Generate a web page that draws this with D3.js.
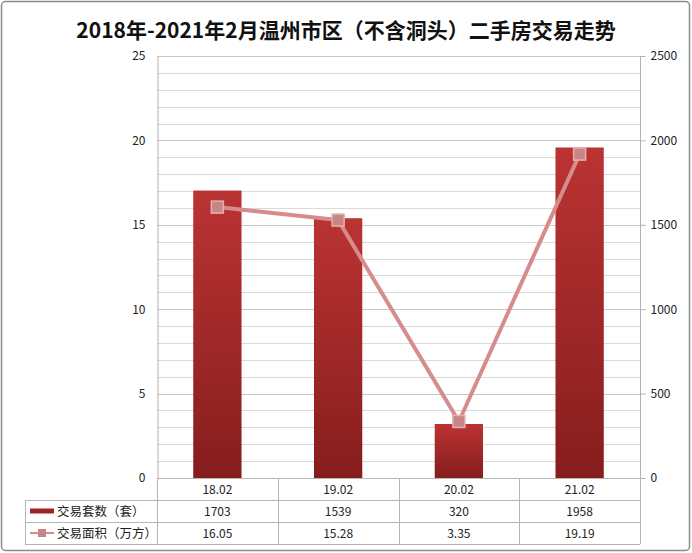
<!DOCTYPE html>
<html>
<head>
<meta charset="utf-8">
<script src="https://cdn.jsdelivr.net/npm/d3@7"></script>
<style>
  body { margin: 0; background: #fff; }
  text { font-family: "Noto Sans CJK SC", "DejaVu Sans", sans-serif; }
</style>
</head>
<body>
<div id="chart"></div>
<script>
// data
var categories = ["18.02", "19.02", "20.02", "21.02"];
var unitCounts = [1703, 1539, 320, 1958];          // 交易套数（套）, right axis
var areaValues = [16.05, 15.28, 3.35, 19.19];      // 交易面积（万方）, left axis
var areaLabels = ["16.05", "15.28", "3.35", "19.19"];
var leftTicks = [0, 5, 10, 15, 20, 25];
var rightTicks = [0, 500, 1000, 1500, 2000, 2500];
var seriesNames = ["交易套数（套）", "交易面积（万方）"];
var title = "2018年-2021年2月温州市区（不含洞头）二手房交易走势";

var W = 692, H = 553;
var plot = { left: 157, right: 640, top: 56, bottom: 478 };
var rowH = 22;

var svg = d3.select("#chart").append("svg")
    .attr("width", W)
    .attr("height", H);

// gradient for the bars
var defs = svg.append("defs");
var grad = defs.append("linearGradient")
    .attr("id", "barGrad")
    .attr("x1", 0).attr("y1", 0).attr("x2", 0).attr("y2", 1);
grad.append("stop").attr("offset", "0%").attr("stop-color", "#bb3333");
grad.append("stop").attr("offset", "100%").attr("stop-color", "#861d1d");

// outer frame
svg.append("rect")
    .attr("x", 1.5).attr("y", 1.5)
    .attr("width", W - 4).attr("height", H - 4)
    .attr("rx", 4)
    .attr("fill", "#fff")
    .attr("stroke", "#8c8c8c")
    .attr("stroke-width", 1.5);

svg.append("text")
    .attr("x", 346)
    .attr("y", 38)
    .attr("text-anchor", "middle")
    .attr("font-size", 21)
    .attr("font-weight", "bold")
    .attr("fill", "#111")
    .text(title);

// scales
var xScale = d3.scaleBand()
    .domain(categories)
    .range([plot.left, plot.right])
    .paddingInner(0)
    .paddingOuter(0);

var yLeft = d3.scaleLinear()
    .domain([0, 25])
    .range([plot.bottom, plot.top]);

var yRight = d3.scaleLinear()
    .domain([0, 2500])
    .range([plot.bottom, plot.top]);

// gridlines, one per unit on the left axis
var grid = svg.append("g");
grid.selectAll("line")
    .data(d3.range(1, 26))
    .enter()
    .append("line")
    .attr("x1", plot.left)
    .attr("x2", plot.right)
    .attr("y1", d => Math.round(yLeft(d)) + 0.5)
    .attr("y2", d => Math.round(yLeft(d)) + 0.5)
    .attr("stroke", d => d % 5 === 0 ? "#c8c8c8" : "#dadada")
    .attr("stroke-width", 1);

// left axis (no tick marks, just labels)
var leftAxis = d3.axisLeft(yLeft)
    .tickValues(leftTicks)
    .tickSize(0)
    .tickPadding(12);
var gL = svg.append("g")
    .attr("transform", `translate(${plot.left + 0.5}, 0)`)
    .call(leftAxis);
gL.select(".domain").attr("stroke", "#b0b0b0");
gL.selectAll("text")
    .attr("font-size", 12)
    .attr("fill", "#222")
    .attr("font-family", "'DejaVu Sans', sans-serif");

// right axis with small outward ticks
var rightAxis = d3.axisRight(yRight)
    .tickValues(rightTicks)
    .tickFormat(d3.format("d"))
    .tickSize(5)
    .tickPadding(5);
var gR = svg.append("g")
    .attr("transform", `translate(${plot.right + 0.5}, 0)`)
    .call(rightAxis);
gR.select(".domain").attr("stroke", "#b0b0b0").attr("d", `M0,${plot.top}V${plot.bottom}`);
gR.selectAll(".tick line").attr("stroke", "#b0b0b0");
gR.selectAll("text")
    .attr("font-size", 12)
    .attr("fill", "#222")
    .attr("font-family", "'DejaVu Sans', sans-serif");

// bars
var barW = xScale.bandwidth() * 0.4;
svg.append("g").selectAll("rect")
    .data(unitCounts)
    .enter()
    .append("rect")
    .attr("x", (d, i) => xScale(categories[i]) + (xScale.bandwidth() - barW) / 2)
    .attr("y", d => yRight(d))
    .attr("width", barW)
    .attr("height", d => plot.bottom - yRight(d))
    .attr("fill", "url(#barGrad)");

// line series
var lineColor = "#d68c8c";
var line = d3.line()
    .x((d, i) => xScale(categories[i]) + xScale.bandwidth() / 2)
    .y(d => yLeft(d));

svg.append("path")
    .datum(areaValues)
    .attr("d", line)
    .attr("fill", "none")
    .attr("stroke", lineColor)
    .attr("stroke-width", 4)
    .attr("stroke-linejoin", "round");

var mk = 12;
svg.append("g").selectAll("rect")
    .data(areaValues)
    .enter()
    .append("rect")
    .attr("x", (d, i) => xScale(categories[i]) + xScale.bandwidth() / 2 - mk / 2)
    .attr("y", d => yLeft(d) - mk / 2)
    .attr("width", mk)
    .attr("height", mk)
    .attr("fill", "#c98585")
    .attr("stroke", "#e3b0b0")
    .attr("stroke-width", 1.5);

// data table
var table = svg.append("g");
var tableColor = "#b5b5b5";
var legendLeft = 25;
var rows = [categories, unitCounts.map(String), areaLabels];

// horizontal rules
[0, 1, 2, 3].forEach(function (r) {
    var y = plot.bottom + r * rowH + 0.5;
    table.append("line")
        .attr("x1", r === 0 ? plot.left : legendLeft)
        .attr("x2", plot.right)
        .attr("y1", y).attr("y2", y)
        .attr("stroke", tableColor);
});
// vertical rules
categories.forEach(function (c, i) {
    var x = Math.round(xScale(c)) + 0.5;
    table.append("line")
        .attr("x1", x).attr("x2", x)
        .attr("y1", plot.bottom).attr("y2", plot.bottom + 3 * rowH)
        .attr("stroke", tableColor);
});
table.append("line")
    .attr("x1", plot.right + 0.5).attr("x2", plot.right + 0.5)
    .attr("y1", plot.bottom).attr("y2", plot.bottom + 3 * rowH)
    .attr("stroke", tableColor);
table.append("line")
    .attr("x1", legendLeft + 0.5).attr("x2", legendLeft + 0.5)
    .attr("y1", plot.bottom + rowH).attr("y2", plot.bottom + 3 * rowH)
    .attr("stroke", tableColor);

// cell values
rows.forEach(function (row, r) {
    table.append("g").selectAll("text")
        .data(row)
        .enter()
        .append("text")
        .attr("x", (d, i) => xScale(categories[i]) + xScale.bandwidth() / 2)
        .attr("y", plot.bottom + r * rowH + rowH / 2 + 4.5)
        .attr("text-anchor", "middle")
        .attr("font-size", 12)
        .attr("fill", "#222")
        .attr("font-family", "'DejaVu Sans', sans-serif")
        .text(d => d);
});

// legend cells
var ly1 = plot.bottom + rowH + rowH / 2;
table.append("line")
    .attr("x1", 30).attr("x2", 54)
    .attr("y1", ly1).attr("y2", ly1)
    .attr("stroke", "#9b2323")
    .attr("stroke-width", 5);
var ly2 = plot.bottom + 2 * rowH + rowH / 2;
table.append("line")
    .attr("x1", 30).attr("x2", 54)
    .attr("y1", ly2).attr("y2", ly2)
    .attr("stroke", lineColor)
    .attr("stroke-width", 2);
table.append("rect")
    .attr("x", 38).attr("y", ly2 - 4)
    .attr("width", 8).attr("height", 8)
    .attr("fill", "#c98585");

[ly1, ly2].forEach(function (y, i) {
    table.append("text")
        .attr("x", 57)
        .attr("y", y + 4.5)
        .attr("font-size", 12.5)
        .attr("fill", "#222")
        .text(seriesNames[i]);
});
</script>
</body>
</html>
